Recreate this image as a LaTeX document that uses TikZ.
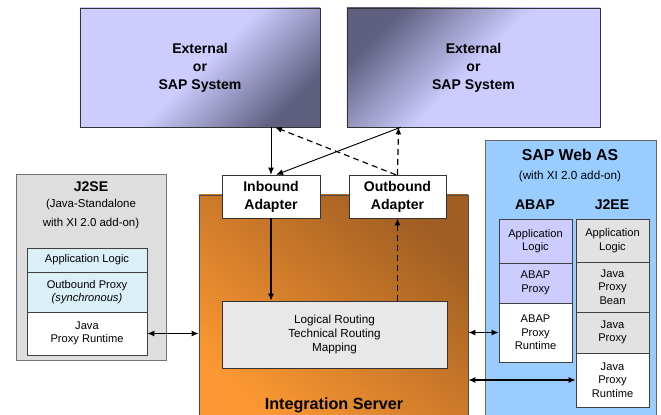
\documentclass[tikz,border=0pt]{standalone}
\usepackage{fontspec}
\setmainfont{Liberation Sans}
\usepackage{xcolor}
\usepackage{tikz}
\usetikzlibrary{shapes,arrows,arrows.meta,positioning}

\definecolor{extlight}{RGB}{204,204,255}
\definecolor{extdark}{RGB}{95,95,128}
\definecolor{isorange}{RGB}{252,152,50}
\definecolor{isbrown}{RGB}{160,94,34}
\definecolor{jsegrey}{RGB}{222,222,222}
\definecolor{rowcyan}{RGB}{218,240,246}
\definecolor{wasblue}{RGB}{153,204,255}
\definecolor{rowlav}{RGB}{204,204,255}
\definecolor{rowgrey}{RGB}{226,226,226}
\definecolor{mapgrey}{RGB}{232,232,232}

\begin{document}
\begin{tikzpicture}[
        x=0.03cm, y=-0.03cm, >={Latex[length=6pt,width=5pt]},
        bigtext/.style={font=\bfseries\fontsize{12}{15.3}\selectfont, align=center},
        smalltext/.style={font=\fontsize{9.5}{11.5}\selectfont, align=center},
        extsys/.style={draw=black!80, bigtext, minimum width=7.2cm, minimum height=3.57cm, inner sep=0pt},
        adapter/.style={draw=black!80, fill=white, bigtext, minimum width=2.94cm, minimum height=1.29cm, inner sep=0pt},
        row/.style={draw=black!75, smalltext, minimum width=2.19cm, inner sep=0pt},
        flow/.style={->, line width=0.8pt},
        dflow/.style={->, line width=1pt, dash pattern=on 5pt off 3.5pt}]

    \clip (0,0) rectangle (661,415);
    \fill[white] (0,0) rectangle (661,415);

    % external systems
    \node[extsys, shading=axis, top color=extlight, bottom color=extdark, middle color=extlight, shading angle=45]
        (ext1) at (200,67.5) {External\\or\\SAP System};
    \node[extsys, minimum width=7.59cm, shading=axis, top color=extdark, bottom color=extlight, middle color=extlight, shading angle=45]
        (ext2) at (473.5,67.5) {External\\or\\SAP System};

    % integration server
    \node[draw=black!70, shading=axis, top color=isbrown, bottom color=isorange, shading angle=-40,
        minimum width=8.07cm, minimum height=6.9cm] (server) at (333.5,310) {};
    \node[font=\bfseries\fontsize{13.8}{15}\selectfont] (servername) at (334,405) {Integration Server};
    \node[adapter] (inbound) at (271,196.5) {Inbound\\Adapter};
    \node[adapter, minimum width=2.91cm] (outbound) at (397.5,196.5) {Outbound\\Adapter};
    \node[draw=black!80, fill=mapgrey, font=\fontsize{10}{12}\selectfont, align=center,
        minimum width=6.75cm, minimum height=2.01cm] (mapping) at (334.5,334.5)
        {Logical Routing\\Technical Routing\\Mapping};

    % J2SE
    \node[draw=black!55, fill=jsegrey, minimum width=4.5cm, minimum height=5.58cm] (j2se) at (91,267) {};
    \node[font=\bfseries\fontsize{12}{14}\selectfont] (j2setitle) at (91,187) {J2SE};
    \node[font=\fontsize{9.8}{15.5}\selectfont, align=center] (j2senote) at (91,214) {(Java-Standalone\\with XI 2.0 add-on)};
    \node[row, fill=rowcyan, minimum width=3.6cm, minimum height=0.72cm] (jseapp) at (87,260) {Application Logic};
    \node[row, fill=rowcyan, minimum width=3.6cm, minimum height=1.2cm] (jseproxy) at (87,292) {Outbound Proxy\\\textit{(synchronous)}};
    \node[row, fill=white, minimum width=3.6cm, minimum height=1.29cm] (jserun) at (87,333.5) {Java\\Proxy Runtime};

    % SAP Web AS
    \node[draw=black!60, fill=wasblue, minimum width=5.13cm, minimum height=8.4cm] (webas) at (570.5,280) {};
    \node[font=\bfseries\fontsize{13.5}{15}\selectfont] (webastitle) at (570,155) {SAP Web AS};
    \node[font=\fontsize{10}{12}\selectfont] (webasnote) at (570,176) {(with XI 2.0 add-on)};
    \node[font=\bfseries\fontsize{12}{14}\selectfont] (abaptitle) at (535,205) {ABAP};
    \node[font=\bfseries\fontsize{12}{14}\selectfont] (j2eetitle) at (612,205) {J2EE};
    \node[row, fill=rowlav, minimum height=1.32cm] (abapapp) at (535.5,241) {Application\\Logic};
    \node[row, fill=rowlav, minimum height=1.2cm] (abapproxy) at (535.5,283) {ABAP\\Proxy};
    \node[row, fill=white, minimum height=1.77cm] (abaprun) at (535.5,332.5) {ABAP\\Proxy\\Runtime};
    \node[row, fill=rowgrey, minimum height=1.29cm] (j2eeapp) at (612.5,240.5) {Application\\Logic};
    \node[row, fill=rowgrey, minimum height=1.5cm] (j2eebean) at (612.5,287) {Java\\Proxy\\Bean};
    \node[row, fill=rowgrey, minimum height=1.23cm] (j2eeproxy) at (612.5,332.5) {Java\\Proxy};
    \node[row, fill=white, minimum height=1.62cm] (j2eerun) at (612.5,380) {Java\\Proxy\\Runtime};

    % message flow
    \draw[flow] (ext1.south -| inbound.north) -- (inbound.north);
    \draw[flow] ([xshift=0.1cm]ext2.south -| outbound.north) -- ([xshift=0.15cm]inbound.north);
    \draw[dflow] (outbound.north) -- ([xshift=0.03cm]ext2.south -| outbound.north);
    \draw[dflow] ([xshift=-0.05cm]outbound.north) -- ([xshift=0.12cm]ext1.south -| inbound.north);
    \draw[flow, line width=1.1pt] (inbound.south) -- (inbound.south |- mapping.north);
    \draw[dflow, line width=1.2pt] (outbound.south |- mapping.north) -- (outbound.south);
    \draw[<->, line width=1.1pt] (jserun.east) -- (jserun.east -| server.west);
    \draw[<->, line width=1.1pt] (abaprun.west -| server.east) -- (abaprun.west);
    \draw[<->, line width=1.1pt] (j2eerun.west -| server.east) -- (j2eerun.west);
\end{tikzpicture}
\end{document}
